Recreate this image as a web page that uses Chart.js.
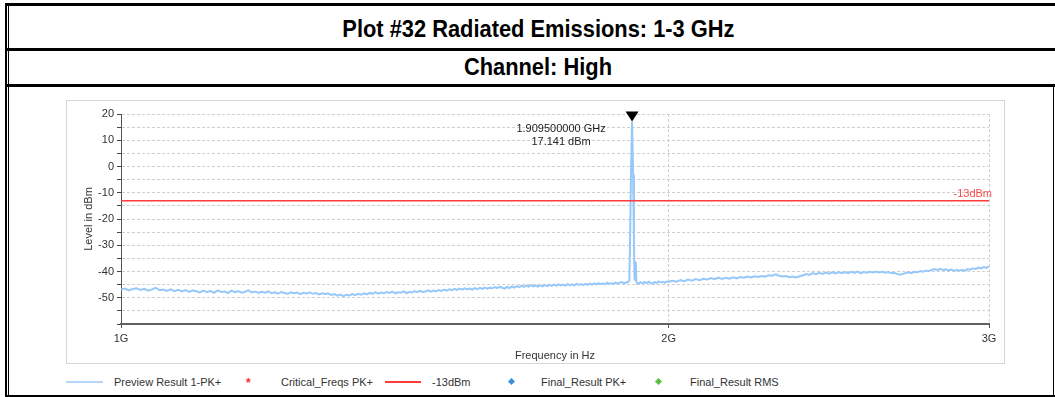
<!DOCTYPE html>
<html>
<head>
<meta charset="utf-8">
<title>Plot #32 Radiated Emissions: 1-3 GHz</title>
<script src="https://cdn.jsdelivr.net/npm/chart.js@4.4.1/dist/chart.umd.min.js"></script>
<style>
  html, body { margin: 0; padding: 0; background: #fff; }
  body { width: 1055px; height: 397px; position: relative; overflow: hidden;
         font-family: "Liberation Sans", Arial, sans-serif; }
  .rule { position: absolute; background: #000; }
  .head { position: absolute; left: 21px; right: 0; text-align: center; line-height: 26px;
          font-family: "Liberation Sans Narrow", "Arial Narrow", "Liberation Sans", sans-serif;
          font-weight: bold; font-size: 23px; color: #000; }
  .head span { display: inline-block; transform: scaleX(0.95); }
  #frame { position: absolute; left: 66px; top: 100px; width: 937px; height: 262px;
           border: 1px solid #d6d6d6; }
  #plot { display: block; }
  .lg { position: absolute; font-size: 11px; line-height: 14px; top: 375px; color: #333; white-space: nowrap; }
  .lgLine { position: absolute; height: 2px; top: 381px; }
  .lgDiamond { position: absolute; width: 5px; height: 5px; top: 379px; transform: rotate(45deg); }
</style>
</head>
<body>
<!-- report frame -->
<div class="rule" style="left:5px;top:3px;width:1050px;height:3px"></div>
<div class="rule" style="left:5px;top:48px;width:1050px;height:3px"></div>
<div class="rule" style="left:5px;top:84px;width:1050px;height:3px"></div>
<div class="rule" style="left:5px;top:395px;width:1050px;height:2px"></div>
<div class="rule" style="left:5px;top:3px;width:2px;height:394px"></div>
<div class="rule" style="left:8px;top:3px;width:1px;height:394px"></div>
<div class="rule" style="left:1053px;top:87px;width:1px;height:310px"></div>

<div class="head" style="top:16px"><span>Plot #32 Radiated Emissions: 1-3 GHz</span></div>
<div class="head" style="top:54px"><span>Channel: High</span></div>

<div id="frame"><canvas id="plot" width="937" height="262"></canvas></div>

<!-- legend -->
<div class="lgLine" style="left:66px;width:37px;background:#b4d6f8"></div>
<div class="lg" style="left:114px">Preview Result 1-PK+</div>
<div class="lg" style="left:246px;top:376px;color:#ff2a2a;font-weight:bold;font-size:12px">*</div>
<div class="lg" style="left:281px">Critical_Freqs PK+</div>
<div class="lgLine" style="left:385px;width:36px;background:#ff3b3b"></div>
<div class="lg" style="left:432px">-13dBm</div>
<div class="lgDiamond" style="left:509px;background:#3c8fe0"></div>
<div class="lg" style="left:541px">Final_Result PK+</div>
<div class="lgDiamond" style="left:656px;background:#5cc040"></div>
<div class="lg" style="left:690px">Final_Result RMS</div>

<script>
// Preview sweep 1 - 1.9 GHz, 5 MHz points
const sweepLowMHz = [
  1000,1005,1010,1015,1020,1025,1030,1035,1040,1045,1050,1055,1060,1065,1070,1075,1080,1085,1090,1095,
  1100,1105,1110,1115,1120,1125,1130,1135,1140,1145,1150,1155,1160,1165,1170,1175,1180,1185,1190,1195,
  1200,1205,1210,1215,1220,1225,1230,1235,1240,1245,1250,1255,1260,1265,1270,1275,1280,1285,1290,1295,
  1300,1305,1310,1315,1320,1325,1330,1335,1340,1345,1350,1355,1360,1365,1370,1375,1380,1385,1390,1395,
  1400,1405,1410,1415,1420,1425,1430,1435,1440,1445,1450,1455,1460,1465,1470,1475,1480,1485,1490,1495,
  1500,1505,1510,1515,1520,1525,1530,1535,1540,1545,1550,1555,1560,1565,1570,1575,1580,1585,1590,1595,
  1600,1605,1610,1615,1620,1625,1630,1635,1640,1645,1650,1655,1660,1665,1670,1675,1680,1685,1690,1695,
  1700,1705,1710,1715,1720,1725,1730,1735,1740,1745,1750,1755,1760,1765,1770,1775,1780,1785,1790,1795,
  1800,1805,1810,1815,1820,1825,1830,1835,1840,1845,1850,1855,1860,1865,1870,1875,1880,1885,1890,1895
];
const sweepLowDbm = [
  -46.9,-46.5,-47.2,-46.7,-46.4,-47.0,-46.6,-47.3,-46.8,-46.2,-47.1,-46.9,-47.4,-46.8,-47.5,-47.0,-47.6,-47.1,-47.8,-47.2,
  -47.5,-48.0,-47.3,-47.9,-47.4,-48.1,-47.2,-47.8,-47.6,-48.2,-47.3,-47.9,-47.5,-48.1,-47.7,-47.2,-48.0,-47.6,-48.2,-47.7,
  -48.1,-47.6,-48.3,-47.9,-48.4,-47.8,-48.2,-48.5,-47.9,-48.3,-48.0,-48.6,-48.1,-48.4,-47.9,-48.5,-48.2,-48.7,-48.3,-48.6,
  -48.4,-48.9,-48.6,-49.2,-48.8,-49.4,-48.9,-49.1,-48.6,-49.0,-48.5,-48.8,-48.3,-48.7,-48.1,-48.5,-47.9,-48.4,-48.0,-48.3,
  -47.8,-48.2,-47.7,-48.3,-47.9,-48.1,-47.6,-48.2,-47.8,-48.0,-47.5,-47.9,-47.4,-47.8,-47.6,-47.2,-47.7,-47.3,-47.6,-47.1,
  -47.4,-46.9,-47.3,-46.8,-47.1,-46.6,-47.0,-46.5,-46.9,-46.4,-46.8,-46.5,-46.9,-46.3,-46.7,-46.2,-46.6,-46.1,-46.5,-46.2,
  -46.4,-45.9,-46.3,-45.8,-46.2,-46.5,-45.9,-46.3,-45.7,-46.1,-45.6,-46.0,-45.5,-45.9,-45.4,-45.8,-45.3,-45.7,-45.4,-45.8,
  -45.3,-45.7,-45.2,-45.6,-45.1,-45.5,-45.0,-45.4,-44.9,-45.3,-45.0,-45.4,-44.8,-45.2,-44.9,-45.3,-44.7,-45.1,-44.8,-45.2,
  -44.7,-45.1,-44.6,-45.0,-44.5,-44.9,-44.4,-44.8,-44.5,-44.9,-44.3,-44.7,-44.4,-44.8,-44.2,-44.6,-44.3,-44.0,-44.5,-44.1
];

// carrier at the high channel
const carrierMHz = [1898, 1901, 1903, 1905, 1907, 1909.5, 1912, 1914, 1915.5, 1917, 1918.5, 1920, 1922];
const carrierDbm = [-44.2, -43.8, -43.5, -25.0, -2.0, 17.141, -3.0, -28.0, -43.4, -41.5, -36.2, -43.9, -44.7];

// 1.925 - 1.995 GHz, 5 MHz points
const sweepMidMHz = [1925,1930,1935,1940,1945,1950,1955,1960,1965,1970,1975,1980,1985,1990,1995];
const sweepMidDbm = [-44.5,-44.1,-44.6,-44.0,-44.4,-43.9,-44.3,-44.6,-44.0,-44.4,-43.8,-44.2,-43.9,-44.3,-43.8];

// 2 - 3 GHz, 10 MHz points
const sweepHighMHz = [
  2000,2010,2020,2030,2040,2050,2060,2070,2080,2090,
  2100,2110,2120,2130,2140,2150,2160,2170,2180,2190,
  2200,2210,2220,2230,2240,2250,2260,2270,2280,2290,
  2300,2310,2320,2330,2340,2350,2360,2370,2380,2390,
  2400,2410,2420,2430,2440,2450,2460,2470,2480,2490,
  2500,2510,2520,2530,2540,2550,2560,2570,2580,2590,
  2600,2610,2620,2630,2640,2650,2660,2670,2680,2690,
  2700,2710,2720,2730,2740,2750,2760,2770,2780,2790,
  2800,2810,2820,2830,2840,2850,2860,2870,2880,2890,
  2900,2910,2920,2930,2940,2950,2960,2970,2980,2990,
  3000
];
const sweepHighDbm = [
  -43.9,-43.5,-43.9,-43.3,-43.7,-43.1,-43.5,-42.9,-43.3,-42.8,
  -43.0,-42.5,-42.9,-42.3,-42.8,-42.4,-42.7,-42.2,-42.6,-42.1,
  -42.4,-41.9,-42.3,-41.8,-42.1,-41.7,-42.0,-41.4,-41.6,-41.1,
  -41.6,-41.9,-41.7,-42.2,-41.9,-42.3,-41.8,-41.5,-41.0,-41.3,
  -40.6,-41.0,-40.5,-40.9,-40.4,-40.8,-40.3,-40.7,-40.2,-40.6,
  -40.2,-40.6,-40.1,-40.5,-40.0,-40.6,-40.2,-40.5,-40.1,-40.4,
  -40.0,-40.4,-40.1,-40.5,-40.2,-40.6,-40.5,-40.9,-41.2,-40.9,
  -40.6,-40.3,-40.6,-40.1,-40.3,-39.8,-40.1,-39.6,-39.9,-39.4,
  -39.1,-39.5,-39.0,-39.4,-39.2,-39.6,-39.3,-39.7,-39.4,-39.6,
  -39.4,-39.7,-39.1,-39.3,-38.8,-39.0,-38.5,-38.8,-38.3,-38.6,
  -38.1
];

// limit line
const limitDbm = -13;
const limitLabel = '-13dBm';
const limitSpanHz = [1e9, 3e9];

// axes
const xTickHz = [1e9, 2e9, 3e9];
const xTickLabels = ['1G', '2G', '3G'];
const yTickValues = [-60, -55, -50, -45, -40, -35, -30, -25, -20, -15, -10, -5, 0, 5, 10, 15, 20];
const yTickLabels = [20, 10, 0, -10, -20, -30, -40, -50];

const freqMHz = [...sweepLowMHz, ...carrierMHz, ...sweepMidMHz, ...sweepHighMHz];
const levelDbm = [...sweepLowDbm, ...carrierDbm, ...sweepMidDbm, ...sweepHighDbm];

const tracePoints = freqMHz.map((f, i) => ({ x: f * 1e6, y: levelDbm[i] }));
const limitPoints = limitSpanHz.map(f => ({ x: f, y: limitDbm }));

// marker sits on the highest point of the trace
const peakIndex = levelDbm.indexOf(Math.max(...levelDbm));
const peakHz = freqMHz[peakIndex] * 1e6;
const peakDbm = levelDbm[peakIndex];

Chart.defaults.font.family = '"Liberation Sans", Arial, sans-serif';

const markerPlugin = {
  id: 'markerPlugin',
  afterDatasetsDraw(chart) {
    const { ctx, chartArea, scales: { x, y } } = chart;
    const px = x.getPixelForValue(peakHz);
    const py = y.getPixelForValue(peakDbm);

    ctx.save();
    ctx.fillStyle = '#000';
    ctx.beginPath();
    ctx.moveTo(px, py);
    ctx.lineTo(px - 6.5, py - 10);
    ctx.lineTo(px + 6.5, py - 10);
    ctx.closePath();
    ctx.fill();

    ctx.font = '11px "Liberation Sans", Arial';
    ctx.fillStyle = '#222';
    ctx.textAlign = 'center';
    ctx.textBaseline = 'middle';
    ctx.fillText((peakHz / 1e9).toFixed(9) + ' GHz', px - 71, py + 7.5);
    ctx.fillText(peakDbm.toFixed(3) + ' dBm', px - 71, py + 20.5);

    const ly = y.getPixelForValue(limitDbm);
    ctx.fillStyle = '#ff4a4a';
    ctx.textAlign = 'right';
    ctx.textBaseline = 'bottom';
    ctx.fillText(limitLabel, chartArea.right + 3, ly - 1.5);
    ctx.restore();
  }
};

new Chart(document.getElementById('plot'), {
  type: 'line',
  data: {
    datasets: [
      {
        label: 'Preview Result 1-PK+',
        data: tracePoints,
        borderColor: '#96c8fa',
        borderWidth: 2,
        pointRadius: 0,
        tension: 0,
        order: 1
      },
      {
        label: '-13dBm',
        data: limitPoints,
        borderColor: '#ff3b3b',
        borderWidth: 1.5,
        pointRadius: 0,
        order: 0
      }
    ]
  },
  options: {
    responsive: false,
    devicePixelRatio: 1,
    animation: false,
    layout: { padding: { top: 13, right: 15, bottom: 0, left: 0 } },
    plugins: { legend: { display: false }, tooltip: { enabled: false } },
    scales: {
      x: {
        type: 'logarithmic',
        min: 1e9,
        max: 3e9,
        afterFit: (s) => { s.height = 39; },
        afterBuildTicks: (s) => { s.ticks = xTickHz.map(v => ({ value: v })); },
        ticks: {
          callback: (v, i) => xTickLabels[i],
          color: '#333',
          font: { size: 11 },
          padding: 4,
          maxRotation: 0,
          autoSkip: false
        },
        grid: { color: '#d0d0d0', tickLength: 4, tickColor: '#555', tickBorderDash: [] },
        border: { color: '#606060', width: 2, dash: [3, 2] },
        title: { display: true, text: 'Frequency in Hz', color: '#333', font: { size: 11 }, padding: 0 }
      },
      y: {
        min: -60,
        max: 20,
        afterFit: (s) => { s.width = 54; },
        afterBuildTicks: (s) => { s.ticks = yTickValues.map(v => ({ value: v })); },
        ticks: {
          callback: (v) => (yTickLabels.includes(v) ? String(v) : ''),
          color: '#333',
          font: { size: 11 },
          padding: 3,
          autoSkip: false
        },
        grid: { color: '#d0d0d0', tickLength: 4, tickColor: '#444', tickBorderDash: [] },
        border: { color: '#555', width: 1, dash: [3, 2] },
        title: { display: true, text: 'Level in dBm', color: '#333', font: { size: 11 }, padding: { top: 15, bottom: 0 } }
      }
    }
  },
  plugins: [markerPlugin]
});
</script>
</body>
</html>
